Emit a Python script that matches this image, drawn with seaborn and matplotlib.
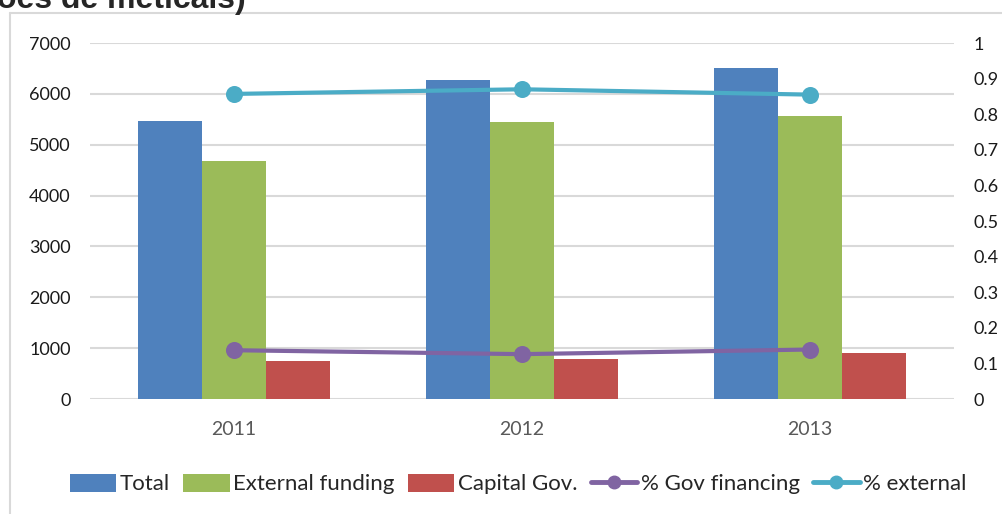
import numpy as np
import pandas as pd
import matplotlib
matplotlib.use("Agg")
import matplotlib.pyplot as plt
from matplotlib.lines import Line2D
from matplotlib.patches import Patch
import seaborn as sns

years = ["2011", "2012", "2013"]
total = [5460, 6266, 6508]
external = [4674, 5446, 5558]
capital = [741, 781, 898]
pct_gov = [0.137, 0.126, 0.139]
pct_ext = [0.857, 0.870, 0.855]

bar_series = ["Total", "External funding", "Capital Gov."]
bar_colors = ["#4F81BD", "#9BBB59", "#C0504D"]
line_series = ["% Gov financing", "% external"]
line_colors = ["#8064A2", "#4BACC6"]

sns.set_theme(style="white")
plt.rcParams["font.family"] = ["Lato", "DejaVu Sans"]

W, H = 1003, 514
fig = plt.figure(figsize=(W / 100, H / 100), dpi=100)
ax = fig.add_axes([90 / W, 1 - 399 / H, (954 - 90) / W, (399 - 43) / H])

df = pd.DataFrame({
    "year": years * 3,
    "series": sum([[s] * 3 for s in bar_series], []),
    "value": total + external + capital,
})
sns.barplot(data=df, x="year", y="value", hue="series", hue_order=bar_series,
            palette=bar_colors, width=0.667, saturation=1, ax=ax, legend=False,
            linewidth=0, zorder=2)

ax.set_ylim(0, 7000)
ax.set_yticks(np.arange(0, 7001, 1000))
ax.set_xlim(-0.5, 2.5)
ax.yaxis.grid(True, color="#D9D9D9", linewidth=1.5, zorder=0)
ax.set_axisbelow(True)
for s in ax.spines.values():
    s.set_visible(False)
ax.set_xlabel("")
ax.set_ylabel("")
ax.tick_params(axis="y", length=0, pad=14, labelsize=13, labelcolor="#1a1a1a")
ax.tick_params(axis="x", length=0, pad=16, labelsize=14, labelcolor="#595959")

ax2 = ax.twinx()
ldf = pd.DataFrame({
    "year": years * 2,
    "series": sum([[s] * 3 for s in line_series], []),
    "value": pct_gov + pct_ext,
})
sns.pointplot(data=ldf, x="year", y="value", hue="series", hue_order=line_series,
              palette=line_colors, markers="o", markersize=10, linewidth=3,
              ax=ax2, legend=False, errorbar=None)
ax2.set_ylim(0, 1)
ax2.set_yticks(np.round(np.arange(0, 1.01, 0.1), 1))
ax2.set_yticklabels(["0"] + [f"{v:.1f}" for v in np.arange(0.1, 0.95, 0.1)] + ["1"])
ax2.set_xlim(-0.5, 2.5)
for s in ax2.spines.values():
    s.set_visible(False)
ax2.set_ylabel("")
ax2.set_xlabel("")
ax2.grid(False)
ax2.tick_params(axis="y", length=0, pad=14, labelsize=13, labelcolor="#1a1a1a")

handles = [Patch(facecolor=c, edgecolor="none") for c in bar_colors]
handles += [Line2D([0], [0], color=c, lw=3.5, marker="o", markersize=9) for c in line_colors]
fig.legend(handles, bar_series + line_series, loc="center",
           bbox_to_anchor=(518 / W, 1 - 484 / H), ncol=5, frameon=False,
           fontsize=16, handlelength=2.1, handleheight=0.9, handletextpad=0.15,
           columnspacing=0.6, borderaxespad=0)

# outer chart frame (partially cropped)
fig.add_artist(Line2D([10 / W, 10 / W], [0, 1 - 13 / H], transform=fig.transFigure,
                      color="#D9D9D9", lw=1.5))
fig.add_artist(Line2D([10 / W, 1], [1 - 13 / H, 1 - 13 / H], transform=fig.transFigure,
                      color="#D9D9D9", lw=1.5))

fig.text(-3 / W, 1 - 8 / H, "ões de meticais)", fontsize=23, fontweight="bold",
         family=["Liberation Sans", "DejaVu Sans"], ha="left", va="baseline")

fig.savefig("out.png", dpi=100)
